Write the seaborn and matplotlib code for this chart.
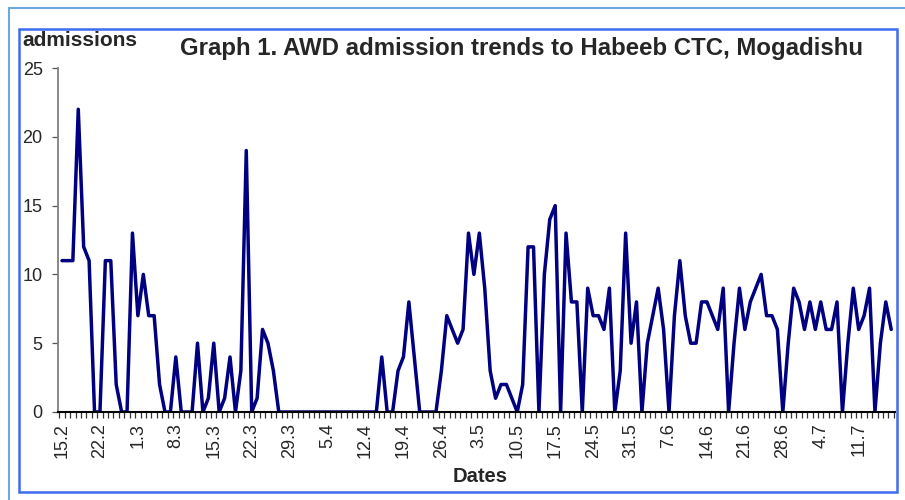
import numpy as np
import pandas as pd
import seaborn as sns
import matplotlib.pyplot as plt
from matplotlib.patches import Rectangle
from matplotlib.lines import Line2D

# daily AWD admissions, Habeeb CTC (15.2 onwards)
admissions = [11, 11, 11, 22, 12, 11, 0, 0, 11, 11, 2, 0, 0, 13, 7, 10, 7, 7, 2, 0,
              0, 4, 0, 0, 0, 5, 0, 1, 5, 0, 1, 4, 0, 3, 19, 0, 1, 6, 5, 3,
              0, 0, 0, 0, 0, 0, 0, 0, 0, 0, 0, 0, 0, 0, 0, 0, 0, 0, 0, 4,
              0, 0, 3, 4, 8, 4, 0, 0, 0, 0, 3, 7, 6, 5, 6, 13, 10, 13, 9, 3,
              1, 2, 2, 1, 0, 2, 12, 12, 0, 10, 14, 15, 0, 13, 8, 8, 0, 9, 7, 7,
              6, 9, 0, 3, 13, 5, 8, 0, 5, 7, 9, 6, 0, 7, 11, 7, 5, 5, 8, 8,
              7, 6, 9, 0, 5, 9, 6, 8, 9, 10, 7, 7, 6, 0, 5, 9, 8, 6, 8, 6,
              8, 6, 6, 8, 0, 5, 9, 6, 7, 9, 0, 5, 8, 6]

# one label every 7 categories
tick_labels = ["15.2", "22.2", "1.3", "8.3", "15.3", "22.3", "29.3", "5.4", "12.4",
               "19.4", "26.4", "3.5", "10.5", "17.5", "24.5", "31.5", "7.6", "14.6",
               "21.6", "28.6", "4.7", "11.7"]
y_ticks = [0, 5, 10, 15, 20, 25]

df = pd.DataFrame({"day": np.arange(len(admissions)), "admissions": admissions})

sns.set_style("white")
plt.rcParams["font.family"] = ["Liberation Sans", "DejaVu Sans"]

fig = plt.figure(figsize=(9.05, 5.0), dpi=100)
ax = fig.add_axes([58 / 905, 88 / 500, 837 / 905, 344 / 500])

sns.lineplot(data=df, x="day", y="admissions", ax=ax, color="#000080", linewidth=2.5)

ax.set_xlim(-0.74, len(admissions) - 0.3)
ax.set_ylim(0, 25)
ax.set_yticks(y_ticks)
ax.set_xticks(np.arange(len(tick_labels)) * 7)
ax.set_xticklabels(tick_labels, rotation=90, fontsize=13)
ax.set_xticks(np.arange(-0.5, len(admissions), 1), minor=True)
ax.tick_params(axis="x", which="major", length=0, pad=8)
ax.tick_params(axis="x", which="minor", bottom=True, length=4, width=0.9,
               color="#333333", direction="out")
ax.tick_params(axis="y", left=True, length=4, width=0.9, color="#555555",
               labelsize=13, pad=7)
ax.set_xlabel("")
ax.set_ylabel("")

for s in ["top", "right"]:
    ax.spines[s].set_visible(False)
ax.spines["left"].set_color("#808080")
ax.spines["left"].set_linewidth(1.3)
ax.spines["bottom"].set_color("black")
ax.spines["bottom"].set_linewidth(1.5)

fig.text(521 / 905, 1 - 49 / 500, "Graph 1. AWD admission trends to Habeeb CTC, Mogadishu",
         ha="center", va="center", fontsize=17.3, fontweight="bold")
fig.text(22 / 905, 1 - 41 / 500, "admissions", ha="left", va="center",
         fontsize=15, fontweight="bold")
fig.text(480 / 905, 1 - 476 / 500, "Dates", ha="center", va="center",
         fontsize=14.5, fontweight="bold")

# frames round the chart
fig.add_artist(Rectangle((19 / 905, 1 - 492 / 500), 878 / 905, 463 / 500,
                         transform=fig.transFigure, fill=False,
                         edgecolor="#3d6cf0", linewidth=1.8))
fig.add_artist(Line2D([9 / 905, 9 / 905], [0, 1 - 8 / 500], transform=fig.transFigure,
                      color="#6fa8dc", linewidth=1.5))
fig.add_artist(Line2D([9 / 905, 1], [1 - 8 / 500, 1 - 8 / 500], transform=fig.transFigure,
                      color="#6fa8dc", linewidth=1.5))

fig.savefig("out.png", dpi=100)
